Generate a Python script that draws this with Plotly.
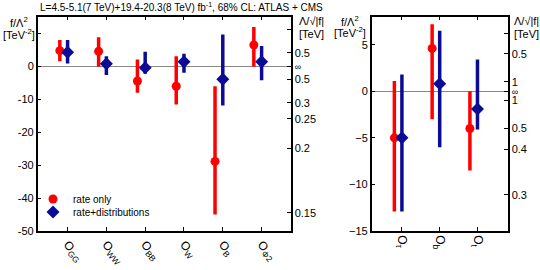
import plotly.graph_objects as go

# ---------------- data ----------------
left_cats = ["GG", "WW", "BB", "W", "B", "Φ2"]
left_rate = [4.7, 4.5, -4.5, -6.1, -28.9, 6.4]
left_rate_lo = [1.5, -0.2, -8.1, -11.6, -45.0, -0.2]
left_rate_hi = [7.9, 8.8, 2.0, 3.0, -6.1, 11.9]
left_dist = [4.2, 0.7, -0.5, 1.3, -4.0, 1.3]
left_dist_lo = [0.8, -2.7, -2.3, -2.0, -11.9, -4.3]
left_dist_hi = [7.9, 3.0, 4.4, 3.8, 9.6, 6.1]

right_cats = ["τ", "b", "t"]
right_rate = [-5.0, 4.6, -4.0]
right_rate_lo = [-12.9, -3.0, -8.5]
right_rate_hi = [1.1, 7.2, 0.0]
right_dist = [-5.0, 0.8, -1.9]
right_dist_lo = [-12.9, -6.0, -4.1]
right_dist_hi = [1.8, 6.5, 3.4]

left_y_ticks = [10, 0, -10, -20, -30, -40, -50]
left_y_text = ["", "0", "-10", "-20", "-30", "-40", "-50"]
right_y_ticks = [5, 0, -5, -10, -15]

# Lambda/sqrt|f| ticks (TeV) with sign of f; None = infinity
INF = "<span style='font-size:9px'>∞</span>"
left_lam = [(0.3, 1, ""), (0.5, 1, "0.5"), (None, 0, INF), (0.5, -1, "0.5"), (0.3, -1, "0.3"),
            (0.25, -1, "0.25"), (0.2, -1, "0.2"), (0.15, -1, "0.15")]
right_lam = [(0.4, 1, ""), (0.5, 1, "0.5"), (1.0, 1, "1"), (None, 0, INF), (1.0, -1, "1"),
             (0.5, -1, "0.5"), (0.4, -1, "0.4"), (0.3, -1, "0.3")]

RED = "#ff0000"
BLUE = "#0b0b96"
FONT = "Liberation Sans, Arial, sans-serif"
W, H = 540, 270


def lam_to_f(lst):
    vals, txt = [], []
    for lam, s, t in lst:
        vals.append(0.0 if lam is None else s / lam ** 2)
        txt.append(t)
    return vals, txt


fig = go.Figure()


def add_panel(cats, rate, rlo, rhi, dist, dlo, dhi, xa, ya, show):
    xs = list(range(1, len(cats) + 1))
    fig.add_trace(go.Scatter(
        x=[x - 0.2 for x in xs], y=rate, mode="markers", name="rate only",
        marker=dict(color=RED, size=9, symbol="circle"),
        error_y=dict(type="data", symmetric=False,
                     array=[h - c for h, c in zip(rhi, rate)],
                     arrayminus=[c - l for c, l in zip(rate, rlo)],
                     color=RED, thickness=3.5, width=0),
        xaxis=xa, yaxis=ya, showlegend=show, legend="legend"))
    fig.add_trace(go.Scatter(
        x=xs, y=dist, mode="markers", name="rate+distributions",
        marker=dict(color=BLUE, size=10, symbol="diamond"),
        error_y=dict(type="data", symmetric=False,
                     array=[h - c for h, c in zip(dhi, dist)],
                     arrayminus=[c - l for c, l in zip(dist, dlo)],
                     color=BLUE, thickness=3.5, width=0),
        xaxis=xa, yaxis=ya, showlegend=show, legend="legend2"))


add_panel(left_cats, left_rate, left_rate_lo, left_rate_hi,
          left_dist, left_dist_lo, left_dist_hi, "x", "y", True)
add_panel(right_cats, right_rate, right_rate_lo, right_rate_hi,
          right_dist, right_dist_lo, right_dist_hi, "x2", "y2", False)

# dummy traces so the secondary (right) axes are drawn
fig.add_trace(go.Scatter(x=[None], y=[None], xaxis="x", yaxis="y3", showlegend=False, hoverinfo="skip"))
fig.add_trace(go.Scatter(x=[None], y=[None], xaxis="x2", yaxis="y4", showlegend=False, hoverinfo="skip"))

px = lambda v: v / W
py = lambda v: 1 - v / H

ydom = [py(231), py(16.7)]
tickfont = dict(family=FONT, size=11, color="black")
common_x = dict(showline=True, linecolor="black", linewidth=1.5, mirror="ticks",
                ticks="inside", ticklen=4, tickcolor="black", showgrid=False,
                zeroline=False, automargin=False,
                tickfont=dict(family=FONT, size=12, color="black"))
common_y = dict(showline=True, linecolor="black", linewidth=1.5, ticks="inside",
                ticklen=4, tickcolor="black", showgrid=False, tickfont=tickfont,
                automargin=False,
                zeroline=True, zerolinecolor="#888888", zerolinewidth=1)
sec_y = dict(showline=True, linecolor="black", linewidth=1.5, ticks="inside", ticklen=4,
             tickcolor="black", showgrid=False, zeroline=False, automargin=False,
             tickfont=tickfont)

lv, lt = lam_to_f(left_lam)
rv, rt = lam_to_f(right_lam)

leg = dict(xanchor="left", yanchor="middle", bgcolor="rgba(0,0,0,0)",
           font=dict(family=FONT, size=10, color="black"), itemwidth=30,
           borderwidth=0)

fig.update_layout(
    width=W, height=H, margin=dict(l=0, r=0, t=0, b=0),
    paper_bgcolor="white", plot_bgcolor="white",
    font=dict(family=FONT, size=11, color="black"),
    xaxis=dict(domain=[px(37.7), px(290.7)], range=[0.23, 6.75], anchor="y",
               tickvals=list(range(1, 7)), ticktext=["O<sub>%s</sub>" % c for c in left_cats],
               tickangle=50, **common_x),
    yaxis=dict(domain=ydom, range=[-50, 15], anchor="x", tickvals=left_y_ticks,
               ticktext=left_y_text, **common_y),
    yaxis3=dict(overlaying="y", side="right", anchor="x", range=[-50, 15],
                tickvals=lv, ticktext=lt, **sec_y),
    xaxis2=dict(domain=[px(371.7), px(507.7)], range=[0.2, 3.8], anchor="y2",
                tickvals=[1, 2, 3], ticktext=["O<sub>%s</sub>" % c for c in right_cats],
                tickangle=90, **common_x),
    yaxis2=dict(domain=ydom, range=[-15, 8], anchor="x2", tickvals=right_y_ticks, **common_y),
    yaxis4=dict(overlaying="y2", side="right", anchor="x2", range=[-15, 8],
                tickvals=rv, ticktext=rt, **sec_y),
    legend=dict(x=px(33), y=py(199), **leg),
    legend2=dict(x=px(33), y=py(212), **leg),
)

ann = [
    ("L=4.5-5.1(7 TeV)+19.4-20.3(8 TeV) fb<sup>-1</sup>, 68% CL: ATLAS + CMS", 38, 7, "left", 10),
    ("f/Λ<sup>2</sup>", 19, 22, "center", 11),
    ("[TeV<sup>-2</sup>]", 19, 34, "center", 11),
    ("Λ/√|f|", 311, 21, "center", 11),
    ("[TeV]", 311, 34, "center", 11),
    ("f/Λ<sup>2</sup>", 350, 21, "center", 11),
    ("[TeV<sup>-2</sup>]", 350, 32, "center", 11),
    ("Λ/√|f|", 526, 21, "center", 11),
    ("[TeV]", 526, 34, "center", 11),
]
for text, x, y, al, fs in ann:
    fig.add_annotation(text=text, x=px(x), y=py(y), xref="paper", yref="paper",
                       xanchor=al, yanchor="middle", showarrow=False,
                       font=dict(family=FONT, size=fs, color="black"))

fig.write_html("out.html", config={"displayModeBar": False},
               post_script="document.body.style.margin='0';")
